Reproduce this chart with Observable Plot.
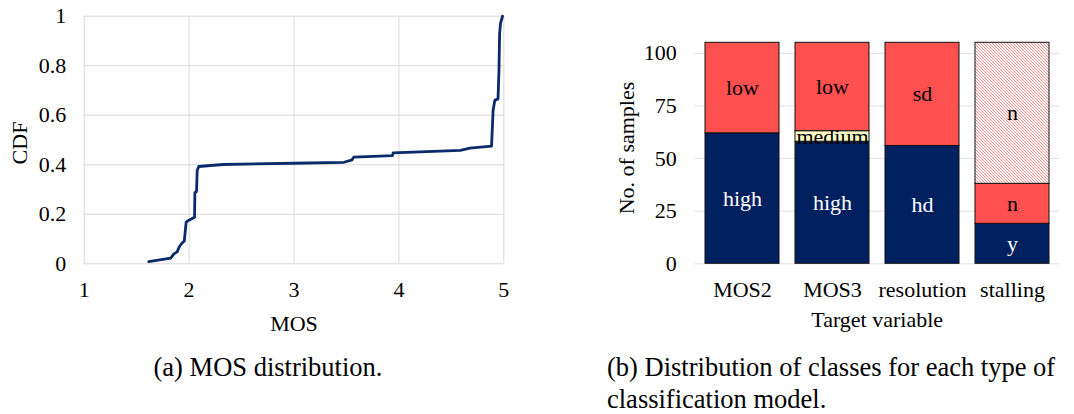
<!DOCTYPE html>
<html>
<head>
<meta charset="utf-8">
<script src="https://cdn.jsdelivr.net/npm/d3@7"></script>
<script src="https://cdn.jsdelivr.net/npm/@observablehq/plot@0.6"></script>
<style>
  html, body { margin: 0; padding: 0; background: #fff; }
  #root { position: relative; width: 1074px; height: 414px; overflow: hidden; font-family: "Liberation Serif", "Times New Roman", serif; color: #000; }
  .panel { position: absolute; top: 0; }
  .cap { position: absolute; font-size: 26.5px; line-height: 32px; white-space: nowrap; }
</style>
</head>
<body>
<div id="root">
  <div id="pa" class="panel" style="left:0px"></div>
  <div id="pb" class="panel" style="left:580px"></div>
  <div class="cap" style="left:0; width:536px; text-align:center; top:351px;">(a) MOS distribution.</div>
  <div class="cap" style="left:607px; top:351px;">(b) Distribution of classes for each type of<br>classification model.</div>
</div>
<script>
// ---------- Panel (a): CDF of MOS ----------
const mosValues = [1.615, 1.825, 1.855, 1.886, 1.908, 1.929, 1.954, 1.972, 1.994, 2.052, 2.055, 2.071, 2.077, 2.092, 2.323, 3.0, 3.477, 3.554, 3.569, 3.938, 3.945, 4.585, 4.677, 4.883, 4.898, 4.914, 4.945, 4.954, 4.960, 4.969, 4.988];
const cdfValues = [0.009, 0.023, 0.040, 0.048, 0.070, 0.082, 0.092, 0.168, 0.175, 0.188, 0.287, 0.292, 0.377, 0.393, 0.401, 0.406, 0.410, 0.420, 0.431, 0.437, 0.448, 0.458, 0.467, 0.475, 0.619, 0.660, 0.666, 0.781, 0.929, 0.972, 1.0];
const mosTicks = [1, 2, 3, 4, 5];
const cdfTicks = [0, 0.2, 0.4, 0.6, 0.8, 1];

// ---------- Panel (b): class distribution ----------
const targets = ["MOS2", "MOS3", "resolution", "stalling"];
const segTarget = ["MOS2", "MOS2", "MOS3", "MOS3", "MOS3", "resolution", "resolution", "stalling", "stalling", "stalling"];
const segLabel  = ["high", "low", "high", "medium", "low", "hd", "sd", "y", "n", "n"];
const segCount  = [62, 43, 58, 5, 42, 56, 49, 19, 19, 67];
const segClass  = [0, 1, 0, 2, 1, 0, 1, 0, 1, 3];
const countTicks = [0, 25, 50, 75, 100];

const FONT = "Liberation Serif";
const GRID = "#d9d9d9";

const cdfData = mosValues.map((m, i) => ({mos: m, cdf: cdfValues[i]}));

const plotA = Plot.plot({
  width: 540, height: 340,
  marginLeft: 83.7, marginRight: 36.7, marginTop: 15.7, marginBottom: 76.7,
  style: {fontFamily: FONT, fontSize: "22px", color: "#000", background: "transparent", overflow: "visible"},
  x: {domain: [1, 5], ticks: mosTicks, tickSize: 0, tickPadding: 18, label: null, tickFormat: d => String(d)},
  y: {domain: [0, 1], ticks: cdfTicks, tickSize: 0, tickPadding: 18, label: null, tickFormat: d => String(d)},
  marks: [
    Plot.gridX(mosTicks, {stroke: GRID, strokeOpacity: 1, strokeWidth: 1}),
    Plot.gridY(cdfTicks, {stroke: GRID, strokeOpacity: 1, strokeWidth: 1}),
    Plot.line(cdfData, {x: "mos", y: "cdf", stroke: "#0a2a6b", strokeWidth: 2.8}),
    Plot.text(["MOS"], {text: d => d, frameAnchor: "bottom", textAnchor: "middle", lineAnchor: "bottom", dy: 66.7, fontSize: 22}),
    Plot.text(["CDF"], {text: d => d, frameAnchor: "left", textAnchor: "middle", rotate: -90, lineAnchor: "bottom", dx: -57, dy: 3, fontSize: 22})
  ]
});
document.getElementById("pa").appendChild(plotA);

const table = segTarget.map((t, i) => ({target: t, label: segLabel[i], count: segCount[i], cls: segClass[i]}));

const plotB = Plot.plot({
  width: 494, height: 340,
  marginLeft: 114.3, marginRight: 15, marginTop: 42.3, marginBottom: 76.7,
  style: {fontFamily: FONT, fontSize: "22px", color: "#000", background: "transparent", overflow: "visible"},
  x: {domain: targets, paddingInner: 0.18, paddingOuter: 0.1, tickSize: 0, tickPadding: 18, label: null},
  y: {domain: [0, 105], ticks: countTicks, tickSize: 0, tickPadding: 18, label: null},
  color: {type: "ordinal", domain: [0, 1, 2, 3], range: ["#002060", "#ff5050", "#ffffc8", "url(#hatch)"]},
  marks: [
    Plot.gridY(countTicks, {stroke: "#e2e2e2", strokeOpacity: 1, strokeWidth: 1}),
    Plot.barY(table, Plot.stackY({x: "target", y: "count", fill: "cls", stroke: "#111", strokeWidth: 1})),
    Plot.text(table, Plot.stackY({x: "target", y: "count", text: d => d.cls === 0 ? d.label : null, fill: "white", fontSize: 22})),
    Plot.text(table, Plot.stackY({x: "target", y: "count", text: d => d.cls !== 0 ? d.label : null, fill: "black", fontSize: 22})),
    Plot.text(["Target variable"], {text: d => d, frameAnchor: "bottom", textAnchor: "middle", lineAnchor: "bottom", dy: 63.2, fontSize: 22}),
    Plot.text(["No. of samples"], {text: d => d, frameAnchor: "left", textAnchor: "middle", rotate: -90, lineAnchor: "bottom", dx: -61, dy: -5.3, fontSize: 22})
  ]
});
// hatch pattern definition (fine downward diagonal, light red)
const defs = d3.select(plotB).insert("defs", ":first-child");
const pat = defs.append("pattern")
  .attr("id", "hatch").attr("patternUnits", "userSpaceOnUse")
  .attr("width", 3).attr("height", 3);
pat.append("rect").attr("width", 3).attr("height", 3).attr("fill", "#ffffff");
pat.append("path").attr("d", "M-1,-1 L4,4 M-1,2 L1,4 M2,-1 L4,1")
  .attr("stroke", "#ff8a8a").attr("stroke-width", 1);
document.getElementById("pb").appendChild(plotB);
</script>
</body>
</html>
